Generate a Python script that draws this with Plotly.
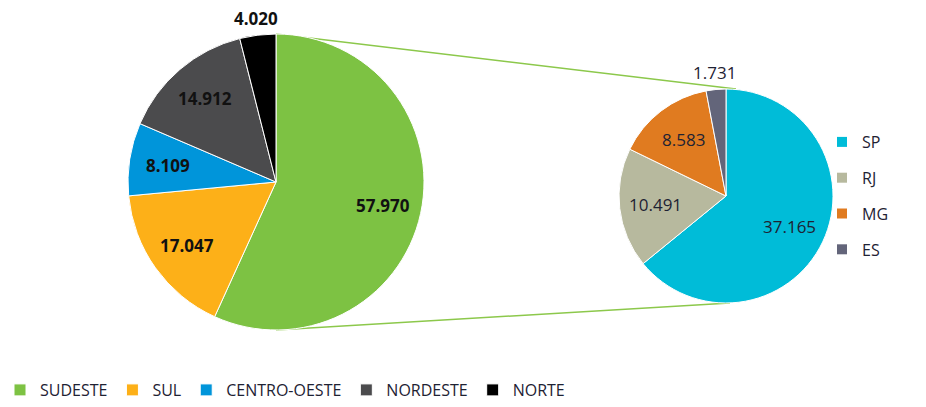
import math
import plotly.graph_objects as go

# ---- data ----
regions = ["SUDESTE", "SUL", "CENTRO-OESTE", "NORDESTE", "NORTE"]
region_values = [57970, 17047, 8109, 14912, 4020]
region_colors = ["#7DC243", "#FDB018", "#0095DA", "#4B4B4D", "#000000"]

states = ["SP", "RJ", "MG", "ES"]
state_values = [37165, 10491, 8583, 1731]
state_colors = ["#00BCD8", "#B7B99E", "#E07B20", "#63657A"]

# ---- geometry (pixels) ----
W, H = 926, 407
ML, MB = 12, 12          # left / bottom margins
PW, PH = W - ML, H - MB  # plot-area size
LEFT = dict(cx=276, cy=182, r=148)
RIGHT = dict(cx=726, cy=196, r=107)
LINE_GREEN = "#8CC84B"
TEXT_DARK = "#1E2233"


def fx(px):
    return (px - ML) / PW


def fy(py):
    return 1 - py / PH


def fmt(v):
    return f"{v:,}".replace(",", ".")


def domain(g):
    return dict(
        x=[fx(g["cx"] - g["r"]), fx(g["cx"] + g["r"])],
        y=[fy(g["cy"] + g["r"]), fy(g["cy"] - g["r"])],
    )


def label_annotations(values, g, inside_frac, outside_idx, font):
    total = sum(values)
    anns = []
    cum = 0
    for i, v in enumerate(values):
        mid = (cum + v / 2) / total
        cum += v
        th = 2 * math.pi * mid
        dist = g["r"] + 17 if i in outside_idx else g["r"] * inside_frac
        px = g["cx"] + dist * math.sin(th)
        py = g["cy"] - dist * math.cos(th)
        anns.append(dict(
            x=fx(px), y=fy(py), xref="paper", yref="paper",
            text=fmt(v), showarrow=False, xanchor="center", yanchor="middle",
            font=font,
        ))
    return anns


fig = go.Figure()

fig.add_trace(go.Pie(
    labels=regions, values=region_values, sort=False, direction="clockwise",
    rotation=0, domain=domain(LEFT), textinfo="none",
    marker=dict(colors=region_colors, line=dict(color="white", width=1)),
    legend="legend", showlegend=True,
))

fig.add_trace(go.Pie(
    labels=states, values=state_values, sort=False, direction="clockwise",
    rotation=0, domain=domain(RIGHT), textinfo="none",
    marker=dict(colors=state_colors, line=dict(color="white", width=1)),
    showlegend=False,
))

# legend entries for the second pie (separate legend with wider spacing)
for s, c in zip(states, state_colors):
    fig.add_trace(go.Scatter(
        x=[None], y=[None], mode="markers", name=s,
        marker=dict(symbol="square", size=10, color=c),
        legend="legend2", legendgroup=s, showlegend=True, hoverinfo="skip",
    ))

anns = []
anns += label_annotations(region_values, LEFT, 0.74, {4},
                          dict(family="Open Sans", size=17, color="#111111", weight="bold"))
anns += label_annotations(state_values, RIGHT, 0.66, {3},
                          dict(family="Open Sans", size=17, color=TEXT_DARK))

shapes = [
    dict(type="line", xref="paper", yref="paper", layer="below",
         x0=fx(LEFT["cx"]), y0=fy(LEFT["cy"] - LEFT["r"]),
         x1=fx(RIGHT["cx"] + 10), y1=fy(RIGHT["cy"] - RIGHT["r"]),
         line=dict(color=LINE_GREEN, width=1.5)),
    dict(type="line", xref="paper", yref="paper", layer="below",
         x0=fx(LEFT["cx"]), y0=fy(LEFT["cy"] + LEFT["r"]),
         x1=fx(RIGHT["cx"] + 4), y1=fy(RIGHT["cy"] + RIGHT["r"]),
         line=dict(color=LINE_GREEN, width=1.5)),
]

fig.update_layout(
    width=W, height=H,
    margin=dict(l=ML, r=0, t=0, b=MB),
    paper_bgcolor="white", plot_bgcolor="white",
    xaxis=dict(visible=False), yaxis=dict(visible=False),
    annotations=anns, shapes=shapes,
    legend=dict(
        orientation="h", x=fx(0), y=fy(H), xanchor="left", yanchor="bottom",
        font=dict(family="Open Sans", size=16, color=TEXT_DARK),
        itemwidth=30, traceorder="normal", bgcolor="rgba(0,0,0,0)",
    ),
    legend2=dict(
        orientation="v", x=fx(822), y=fy(125), xanchor="left", yanchor="top",
        font=dict(family="Open Sans", size=16, color=TEXT_DARK),
        itemwidth=30, tracegroupgap=12, bgcolor="rgba(0,0,0,0)",
    ),
)

fig.write_html("out.html", config={"displayModeBar": False},
               post_script="document.body.style.margin='0';")
